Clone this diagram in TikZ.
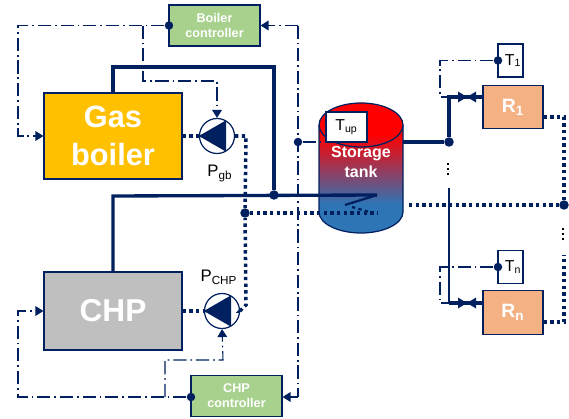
\documentclass[tikz,border=0pt]{standalone}
\usepackage{fontspec}
\setmainfont{Liberation Sans}
\usetikzlibrary{arrows.meta}
\definecolor{navy}{HTML}{002060}
\definecolor{boilerfill}{HTML}{FFC000}
\definecolor{chpfill}{HTML}{BFBFBF}
\definecolor{ctrlfill}{HTML}{A9D18E}
\definecolor{roomfill}{HTML}{F4B183}
\definecolor{tankblue}{HTML}{2E75B6}
\pgfdeclareverticalshading{tankfade}{100bp}{color(0bp)=(tankblue); color(36bp)=(tankblue); color(63bp)=(red); color(100bp)=(red)}
\newcommand{\fsize}[1]{\fontsize{#1}{1.2\dimexpr#1\relax}\selectfont}

\begin{document}
\begin{tikzpicture}[x=0.02cm, y=-0.02cm,
		every node/.style={inner sep=0pt},
		unit/.style={draw=navy, line width=0.7pt, text=white, align=center, font=\bfseries},
		ctrl/.style={unit, fill=ctrlfill, minimum width=1.82cm, minimum height=0.82cm, font=\bfseries\fontsize{7.2}{8.6}\selectfont},
		room/.style={unit, fill=roomfill, minimum width=1.2cm, minimum height=0.87cm, font=\bfseries\fsize{11pt}},
		sensor/.style={draw=navy, line width=0.7pt, fill=white, minimum width=0.5cm, minimum height=0.66cm, font=\fsize{9pt}},
		pump/.style={circle, draw=navy, line width=0.7pt, fill=white, minimum size=0.7cm},
		dot/.style={circle, fill=navy, minimum size=0.19cm},
		pipe/.style={draw=navy, line width=1.9pt},
		ret/.style={draw=navy, line width=2pt, dash pattern=on 1.9pt off 1.9pt},
		signal/.style={draw=navy, line width=0.6pt, dash pattern=on 7.5pt off 2.2pt on 1pt off 2.2pt},
		sigarrow/.style={signal, -{Triangle[length=4.5pt, width=5.5pt]}},
		gap/.style={draw=black, line width=1.4pt, dash pattern=on 1.4pt off 1.4pt}
		]
		\useasboundingbox (0,0) rectangle (569,419);
		% storage tank
		\shade[shading=tankfade] (319,125) -- (319,212) arc[x radius=42, y radius=-21, start angle=180, end angle=360] -- (403,125) arc[x radius=42, y radius=-22, start angle=0, end angle=180] -- cycle;
		\draw[navy, line width=0.7pt] (319,125) -- (319,212) arc[x radius=42, y radius=-21, start angle=180, end angle=360] -- (403,125);
		\draw[navy, line width=0.7pt] (361,125) ellipse[x radius=42, y radius=22];
		\node[minimum width=1.68cm, minimum height=2.6cm, text=white, align=center, font=\bfseries\fontsize{9.1}{11.4}\selectfont] (tank) at (361,162) {Storage\\tank};
		% units
		\node[unit, fill=boilerfill, minimum width=2.76cm, minimum height=1.72cm, font=\bfseries\fontsize{17.5}{21.6}\selectfont] (boiler) at (113,136) {Gas\\boiler};
		\node[unit, fill=chpfill, minimum width=2.76cm, minimum height=1.56cm, font=\bfseries\fsize{18pt}] (chp) at (113,311) {CHP};
		\node[ctrl] (boilerctrl) at (214.5,25.5) {Boiler\\controller};
		\node[ctrl] (chpctrl) at (236.5,396) {CHP\\controller};
		\node[room] (r1) at (513,107) {R\textsubscript{1}};
		\node[room] (rn) at (513,312.5) {R\textsubscript{n}};
		\node[sensor] (t1) at (510.5,60.5) {\hspace{3pt}T\textsubscript{1}};
		\node[sensor] (tn) at (510.5,267) {\hspace{3pt}T\textsubscript{n}};
		\node[sensor, minimum width=0.82cm, minimum height=0.6cm] (tup) at (346.5,127) {T\textsubscript{up}};
		\node[pump] (pgb) at (217,136) {};
		\node[pump] (pchp) at (222,311) {};
		\fill[navy] (pgb.west) -- (pgb.60) -- (pgb.-60) -- cycle;
		\fill[navy] (pchp.west) -- (pchp.60) -- (pchp.-60) -- cycle;
		\node[font=\fsize{9.5pt}] (lgb) at (220,173) {P\textsubscript{gb}};
		\node[font=\fsize{9.5pt}] (lchp) at (219,277) {P\textsubscript{CHP}};
		% junctions and waypoints
		\node[dot] (jhot) at (274,195) {};
		\node[dot] (jcold) at (245,213) {};
		\node[dot] (jload) at (449,142) {};
		\node[dot] (jret) at (564,205) {};
		\node[dot, minimum size=0.17cm] (jbc) at (169,25.5) {};
		\node[dot, minimum size=0.17cm] (jcc) at (191,397) {};
		\node[dot, minimum size=0.17cm] (jsens) at (298,142) {};
		\node[dot, minimum size=0.17cm] (jt1) at (498,60.5) {};
		\node[dot, minimum size=0.17cm] (jtn) at (498,267) {};
		\coordinate (hotend) at (377,195);
		\coordinate (coldend) at (377,213);
		\coordinate (diffa) at (345,205);
		\coordinate (diffb) at (352,207);
		\coordinate (diffc) at (373,213);
		\coordinate (v1) at (467,97);
		\coordinate (vn) at (467,303);
		\coordinate (loadtop) at (449,97);
		\coordinate (loadmid) at (449,188);
		\coordinate (loadbot) at (449,303);
		\coordinate (retstart) at (409,205);
		\coordinate (retmid) at (564,255);
		% supply pipes
		\draw[pipe] (boiler.north) -- (113,67) -- (274,67) -- (jhot);
		\draw[pipe] (chp.north) -- (113,196) -- (hotend);
		\draw[draw=navy, line width=1.3pt] (hotend) -- (diffa);
		\draw[pipe] (tank.east |- jload) -- (jload) -- (loadtop) -- (r1.west |- loadtop);
		\draw[pipe, line width=1.5pt] (loadmid) -- (loadbot);
		\draw[pipe] (loadbot) -- (rn.west |- loadbot);
		\foreach \v in {v1,vn}{
			\fill[navy] (\v) -- ++(-9,-5.5) -- ++(0,11) -- cycle;
			\fill[navy] (\v) -- ++(9,-5.5) -- ++(0,11) -- cycle;
		}
		% return pipes
		\draw[ret] (boiler.east) -- (pgb.west);
		\draw[ret] (pgb.east) -- (246,136) -- (jcold);
		\draw[ret] (chp.east) -- (pchp.west);
		\draw[ret] (pchp.east) -- (240,311) -- (246,305) -- (jcold);
		\draw[ret] (jcold) -- (coldend);
		\draw[ret, line width=1.3pt] (diffb) -- (diffc);
		\draw[ret] (retstart) -- (jret);
		\draw[ret] (r1.east |- 0,117) -- (564,117) -- (jret);
		\draw[ret] (rn.east |- 0,322) -- (564,322) -- (retmid);
		% control signals
		\draw[sigarrow] (jbc) -- (18,25.5) -- (18,136) -- (boiler.west);
		\draw[sigarrow] (143,25.5) -- (143,81) -- (217,81) -- (pgb.north);
		\draw[sigarrow] (jcc) -- (18,397) -- (18,311) -- (chp.west);
		\draw[sigarrow] (165,397) -- (165,360) -- (223,360) -- (pchp.south);
		\draw[sigarrow] (298,25.5) -- (boilerctrl.east);
		\draw[sigarrow] (298,397) -- (chpctrl.east |- jcc);
		\draw[signal] (298,25.5) -- (298,397);
		\draw[signal] (jsens) -- (tup.south west |- jsens);
		\draw[signal] (jt1) -- (440,60.5) -- (440,97) -- (loadtop);
		\draw[signal] (jtn) -- (440,267) -- (440,303) -- (loadbot);
		% omitted loads
		\coordinate (gapa) at (448,163);
		\coordinate (gapb) at (448,176);
		\coordinate (gapc) at (563,228);
		\coordinate (gapd) at (563,241);
		\draw[gap] (gapa) -- (gapb);
		\draw[gap] (gapc) -- (gapd);
	\end{tikzpicture}
\end{document}
